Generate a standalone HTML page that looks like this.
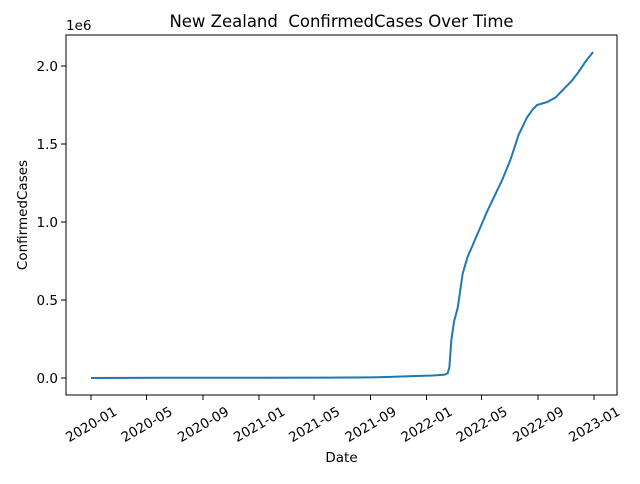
<!DOCTYPE html>
<html><head><meta charset="utf-8"><style>
body{margin:0;background:#fff;font-family:"DejaVu Sans","Liberation Sans",sans-serif}
</style></head><body>
<svg id="chart" width="640" height="480" xmlns="http://www.w3.org/2000/svg" font-family="'DejaVu Sans','Liberation Sans',sans-serif">
<rect width="640" height="480" fill="#fff"/>
<g id="plot"></g>
</svg>
<script>
const dates=["2020-01-01","2020-06-01","2021-01-01","2021-06-01","2021-09-01","2021-10-15","2021-12-01","2022-01-15","2022-02-10","2022-02-16","2022-02-20","2022-02-24","2022-03-02","2022-03-10","2022-03-21","2022-04-01","2022-04-10","2022-05-12","2022-06-15","2022-07-03","2022-07-21","2022-08-08","2022-08-20","2022-08-30","2022-09-22","2022-10-10","2022-10-26","2022-11-12","2022-11-28","2022-12-14","2022-12-30"];
const values=[0,0.0015,0.002,0.0027,0.004,0.007,0.012,0.016,0.022,0.03,0.07,0.24,0.36,0.45,0.67,0.78,0.84,1.06,1.27,1.40,1.56,1.67,1.72,1.75,1.77,1.80,1.85,1.90,1.96,2.03,2.09];
const yTicks=[0,0.5,1.0,1.5,2.0];
const xTicks=["2020-01","2020-05","2020-09","2021-01","2021-05","2021-09","2022-01","2022-05","2022-09","2023-01"];
const NS="http://www.w3.org/2000/svg";
const L=66,R=617,T=35,B=395;
const d0=Date.UTC(2020,0,1),pxPerDay=503/1096;
function xs(s){const p=s.split("-");const t=Date.UTC(+p[0],+p[1]-1,p[2]?+p[2]:1);return 91+(t-d0)/864e5*pxPerDay;}
function ys(v){return 378-v*156;}
const g=document.getElementById('plot');
function mk(tag,attrs,txt){const e=document.createElementNS(NS,tag);for(const k in attrs)e.setAttribute(k,attrs[k]);if(txt!==undefined)e.textContent=txt;g.appendChild(e);return e;}
let d="";dates.forEach((s,i)=>{d+=(i?"L":"M")+xs(s).toFixed(1)+","+ys(values[i]).toFixed(1);});
const line=mk('path',{d:d,fill:'none',stroke:'#1f77b4','stroke-width':2,'stroke-linejoin':'round'});


const fr=mk('rect',{x:L,y:T,width:R-L,height:B-T,fill:'none',stroke:'#000','stroke-width':1});


yTicks.forEach(v=>{const y=ys(v);
 const tk=mk('line',{x1:L-5,x2:L,y1:y,y2:y,stroke:'#000','stroke-width':1});
 
 
 const t=mk('text',{x:L-8,y:y+5,'text-anchor':'end','font-size':13.5,fill:'#000'},v.toFixed(1));
 
 
});
xTicks.forEach(s=>{const x=xs(s);
 const tk=mk('line',{x1:x,x2:x,y1:B,y2:B+5,stroke:'#000','stroke-width':1});
 
 
 const cy=B+29;
 const t=mk('text',{x:x,y:cy+5,'text-anchor':'middle','font-size':13.5,fill:'#000',transform:`rotate(-30 ${x} ${cy})`},s);
 
 
});
const off=mk('text',{x:L,y:T-5,'font-size':13.5,fill:'#000'},'1e6');


const ti=mk('text',{x:(L+R)/2,y:27,'text-anchor':'middle','font-size':16.5,fill:'#000',style:'white-space:pre'},'New Zealand  ConfirmedCases Over Time');


const xl=mk('text',{x:(L+R)/2,y:462,'text-anchor':'middle','font-size':13.5,fill:'#000'},'Date');


const yl=mk('text',{x:27,y:(T+B)/2,'text-anchor':'middle','font-size':13.5,fill:'#000',transform:`rotate(-90 27 ${(T+B)/2})`},'ConfirmedCases');


</script>
</body></html>
